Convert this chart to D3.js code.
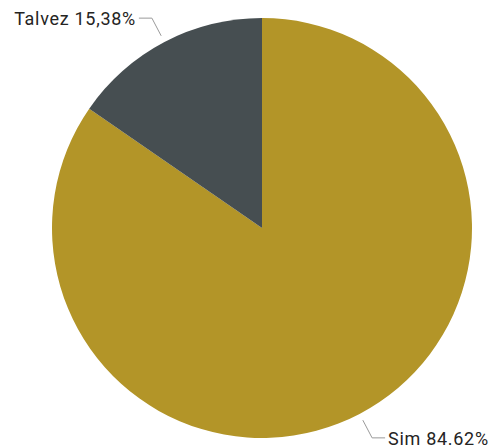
<!DOCTYPE html>
<html>
<head>
<meta charset="utf-8">
<script src="https://cdn.jsdelivr.net/npm/d3@7"></script>
<style>
  html, body { margin: 0; padding: 0; background: #fff; }
  svg text { font-family: "Roboto", "DejaVu Sans", sans-serif; }
</style>
</head>
<body>
<svg id="chart" width="492" height="445"></svg>
<script>
// Responses and their share of the total
const categories = ["Sim", "Talvez"];
const values = [84.62, 15.38];
const labels = ["Sim 84.62%", "Talvez 15,38%"];
const colors = ["#B39528", "#464E51"];

const svg = d3.select("#chart");
const cx = 262, cy = 228, radius = 210;

const pie = d3.pie().sort(null).value(d => d.value);
const data = categories.map((c, i) => ({ name: c, value: values[i], label: labels[i], color: colors[i] }));
const arcs = pie(data);

const g = svg.append("g").attr("transform", `translate(${cx},${cy})`);

const arc = d3.arc().innerRadius(0).outerRadius(radius);
g.selectAll("path.slice")
  .data(arcs)
  .join("path")
  .attr("class", "slice")
  .attr("d", arc)
  .attr("fill", d => d.data.color);

// Leader lines: from just outside the rim to an elbow, then horizontal
const startArc = d3.arc().innerRadius(radius + 7).outerRadius(radius + 7);
const elbowArc = d3.arc().innerRadius(237).outerRadius(237);

arcs.forEach(d => {
  const mid = (d.startAngle + d.endAngle) / 2;
  const right = Math.sin(mid) > 0;
  const p0 = startArc.centroid(d);
  const p1 = elbowArc.centroid(d);
  const p2 = [p1[0] + (right ? 13 : -13), p1[1]];
  g.append("polyline")
    .attr("points", [p0, p1, p2].map(p => p.join(",")).join(" "))
    .attr("fill", "none")
    .attr("stroke", "#9a9a9a")
    .attr("stroke-width", 1);
  g.append("text")
    .attr("x", p2[0] + (right ? 3 : -3))
    .attr("y", p2[1] + 1)
    .attr("dy", "0.35em")
    .attr("text-anchor", right ? "start" : "end")
    .attr("font-size", 18)
    .attr("letter-spacing", 0.7)
    .attr("fill", "#252423")
    .text(d.data.label);
});
</script>
</body>
</html>
